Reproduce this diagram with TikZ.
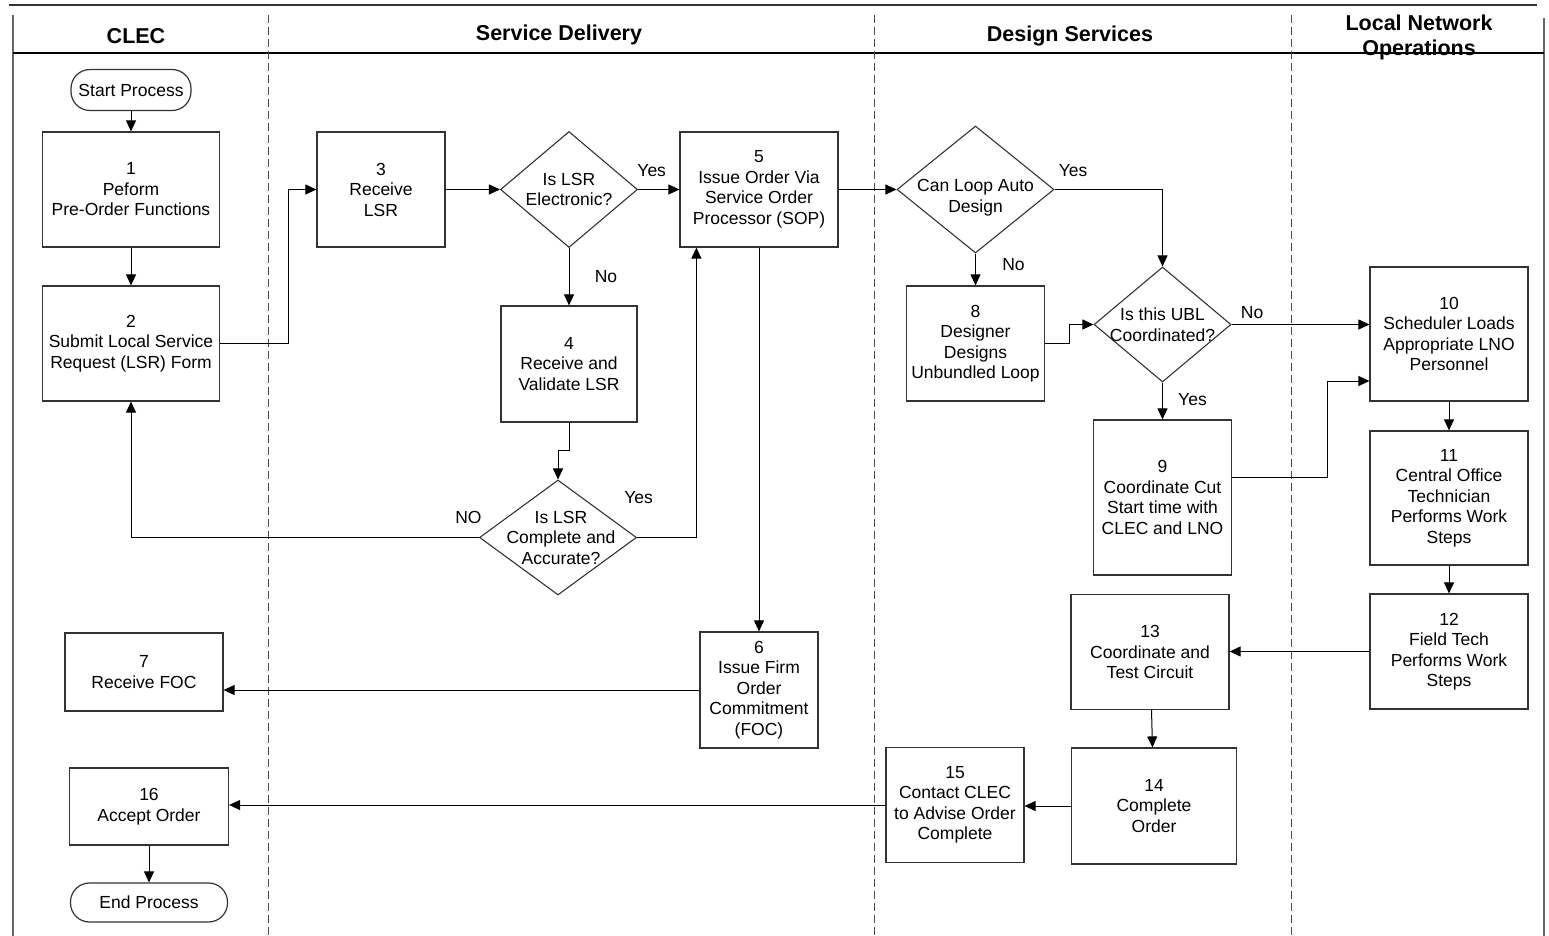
\documentclass[tikz,border=0pt]{standalone}
\usepackage{fontspec}
\setmainfont{Liberation Sans}
\usetikzlibrary{shapes.geometric, positioning, arrows.meta, calc}

\begin{document}
\begin{tikzpicture}
	[->,
	 >={Triangle[length=11pt,width=10pt]},
	 x=1pt, y=-1pt,
	 line width=1pt,
	 font=\fontsize{17.5}{20.5}\selectfont,
	 align=center,
	 proc/.style={draw=black!80, line width=1.2pt, rectangle, inner sep=0pt},
	 decide/.style={draw=black!80, line width=1.1pt, diamond, inner sep=0pt},
	 term/.style={draw=black!80, line width=1.2pt, rectangle, rounded corners=19pt, inner sep=0pt},
	 lane/.style={-, draw=black!70, line width=1pt, dash pattern=on 8pt off 4pt},
	 frame/.style={-, draw=black!60, line width=2pt},
	 head/.style={font=\fontsize{21.5}{25}\selectfont\bfseries}]

	\useasboundingbox (0,0) rectangle (1549,936);

	% swimlanes
	\draw[frame, draw=black!80, line width=2.5pt] (9,5) -- (1537,5);
	\draw[frame] (12.5,15) -- (12.5,936);
	\draw[frame] (1544,18) -- (1544,936);
	\draw[-, line width=1.3pt] (12.5,53) -- (1544,53);
	\draw[lane] (268,15) -- (268,936);
	\draw[lane] (874,15) -- (874,936);
	\draw[lane] (1291,15) -- (1291,936);

	\node[head] (hclec) at (136,36) {CLEC};
	\node[head] (hsd) at (559,35) {Service Delivery};
	\node[head] (hds) at (1070,36) {Design Services};
	\node[head] (hlno) at (1419,37.5) {Local Network\\Operations};

	% CLEC
	\node[term, minimum width=120pt, minimum height=41pt] (s0) at (131,90) {Start Process};
	\node[proc, minimum width=177pt, minimum height=115pt] (b1) at (131,189.5) {1\\Peform\\Pre-Order Functions};
	\node[proc, minimum width=177pt, minimum height=115pt] (b2) at (131,343.5) {2\\Submit Local Service\\Request (LSR) Form};
	\node[proc, minimum width=158pt, minimum height=78pt] (b7) at (144,672) {7\\Receive FOC};
	\node[proc, minimum width=159pt, minimum height=77pt] (b16) at (149,806.5) {16\\Accept Order};
	\node[term, minimum width=157pt, minimum height=39pt] (e0) at (149,902.5) {End Process};

	% service delivery
	\node[proc, minimum width=128pt, minimum height=115pt] (b3) at (381,189.5) {3\\Receive\\LSR};
	\node[decide, minimum width=137pt, minimum height=116pt,
	      label={center:Is LSR\\Electronic?}] (d1) at (569,189.5) {};
	\node[proc, minimum width=136pt, minimum height=116pt] (b4) at (569,364) {4\\Receive and\\Validate LSR};
	\node[decide, minimum width=157pt, minimum height=115pt,
	      label={[xshift=3pt]center:Is LSR\\Complete and\\Accurate?}] (d2) at (558,537.5) {};
	\node[proc, minimum width=158pt, minimum height=115pt] (b5) at (759,189.5) {5\\Issue Order Via\\Service Order\\Processor (SOP)};
	\node[proc, minimum width=118pt, minimum height=116pt] (b6) at (759,690) {6\\Issue Firm\\Order\\Commitment\\(FOC)};

	% design services
	\node[decide, minimum width=157pt, minimum height=127pt,
	      label={[yshift=-8pt]center:Can Loop Auto\\Design}] (d3) at (975.5,189.5) {};
	\node[proc, minimum width=138pt, minimum height=115pt] (b8) at (975.5,343.5) {8\\Designer\\Designs\\Unbundled Loop};
	\node[decide, minimum width=137pt, minimum height=115pt,
	      label={center:Is this UBL\\Coordinated?}] (d4) at (1162.5,324.5) {};
	\node[proc, minimum width=138pt, minimum height=155pt] (b9) at (1162.5,497.5) {9\\Coordinate Cut\\Start time with\\CLEC and LNO};
	\node[proc, minimum width=158pt, minimum height=115pt] (b13) at (1150,652) {13\\Coordinate and\\Test Circuit};
	\node[proc, minimum width=165pt, minimum height=116pt] (b14) at (1154,806) {14\\Complete\\Order};
	\node[proc, minimum width=138pt, minimum height=115pt] (b15) at (955,805) {15\\Contact CLEC\\to Advise Order\\Complete};

	% local network operations
	\node[proc, minimum width=158pt, minimum height=134pt] (b10) at (1449,334) {10\\Scheduler Loads\\Appropriate LNO\\Personnel};
	\node[proc, minimum width=158pt, minimum height=134pt] (b11) at (1449,498) {11\\Central Office\\Technician\\Performs Work\\Steps};
	\node[proc, minimum width=158pt, minimum height=115pt] (b12) at (1449,651.5) {12\\Field Tech\\Performs Work\\Steps};

	\path
	(s0) edge (b1)
	(b1) edge (b2)
	(b3) edge (d1)
	(d1) edge node[pos=0.33, yshift=19pt]{Yes} (b5)
	(d1) edge node[xshift=37pt]{No} (b4)
	(b5) edge (b6)
	(b6.west) edge (b6.west -| b7.east)
	(b5) edge (d3)
	(d3) edge node[pos=0.36, xshift=38pt]{No} (b8)
	(d4.east) edge node[pos=0, xshift=20.5pt, yshift=11.5pt]{No} (d4.east -| b10.west)
	(d4) edge node[pos=0.47, xshift=30pt]{Yes} (b9)
	(b10) edge (b11)
	(b11) edge (b12)
	(b12.west) edge (b12.west -| b13.east)
	(b13) edge (b14)
	(b14.west) edge (b14.west -| b15.east)
	(b15.west) edge (b15.west -| b16.east)
	(b16) edge (e0)
	;

	\draw (b2.east) -- ++(68,0) |- (b3.west);
	\draw (b4.south) -- ++(0,28) -| (d2.north);
	\draw (d2.east) -| node[pos=0, xshift=1.5pt, yshift=39.5pt]{Yes} ($(b5.south west)+(17,0)$);
	\draw (d2.west) -| node[pos=0, xshift=-10.5pt, yshift=20.5pt]{NO} (b2.south);
	\draw (d3.east) -| node[pos=0, xshift=18.5pt, yshift=18.5pt]{Yes} (d4.north);
	\draw (b8.east) -- ++(24,0) |- (d4.west);
	\draw ([yshift=20.5pt]b9.east) -- ++(95,0) |- ([yshift=-47pt]b10.west);
\end{tikzpicture}
\end{document}
